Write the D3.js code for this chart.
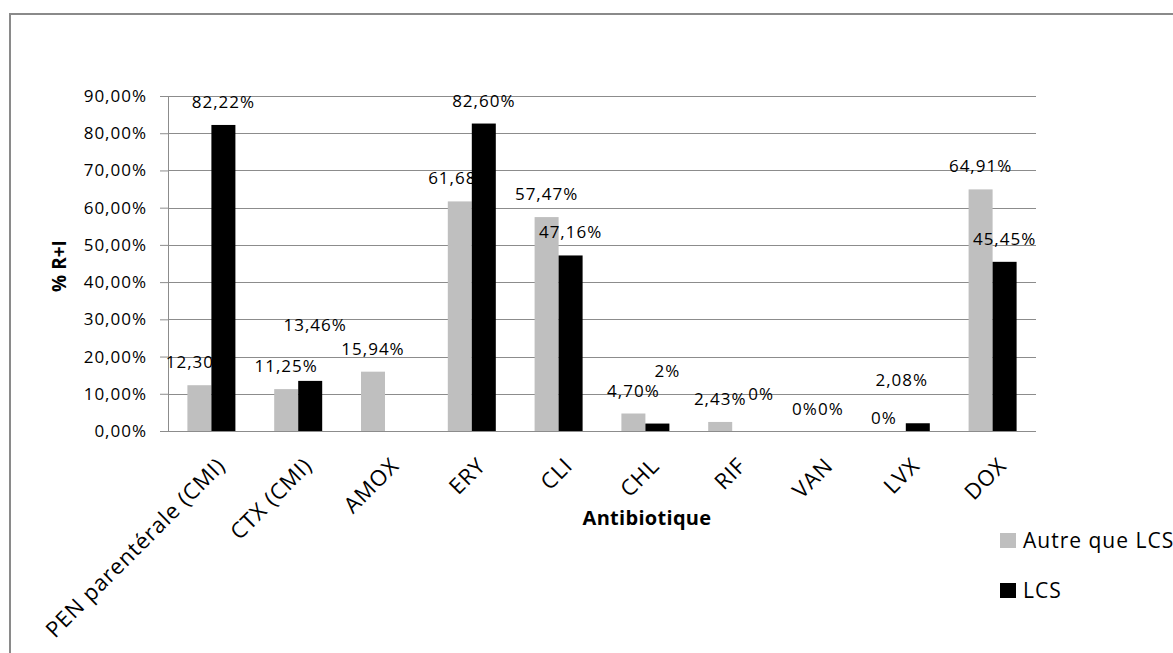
<!DOCTYPE html>
<html>
<head>
<meta charset="utf-8">
<script src="https://cdn.jsdelivr.net/npm/d3@7/dist/d3.min.js"></script>
<style>
  html, body { margin: 0; padding: 0; background: #fff; overflow: hidden; }
  text { font-family: "Open Sans", sans-serif; fill: #000; }
</style>
</head>
<body>
<svg id="chart" width="1173" height="653"></svg>
<script>
// data
const categories = ['PEN parentérale (CMI)', 'CTX (CMI)', 'AMOX', 'ERY', 'CLI', 'CHL', 'RIF', 'VAN', 'LVX', 'DOX'];
const autreValues = [12.30, 11.25, 15.94, 61.68, 57.47, 4.70, 2.43, 0, 0, 64.91];
const lcsValues = [82.22, 13.46, null, 82.60, 47.16, 2, 0, 0, 2.08, 45.45];
const seriesNames = ['Autre que LCS', 'LCS'];
const yTicks = [0, 10, 20, 30, 40, 50, 60, 70, 80, 90];

// manual label moves seen in the picture (dx, dy in px)
const autreNudge = [[-2, 0], [0, 0], [0, 0], [0, 0], [0, 0], [0, 0], [0, 0], [-2, 1], [-10, 10], [0, 0]];
const lcsNudge = [[0, 0], [5, -33], [0, 0], [0, 0], [0, 0], [10, -30], [17, -14], [0, 1], [-16, -20], [0, 0]];

const COLORS = { autre: '#bfbfbf', lcs: '#000000', grid: '#8c8c8c', frame: '#8a8a8a' };
const BAR_W = 24;
const plot = { left: 168, right: 1036, top: 96, bottom: 431 };

const svg = d3.select('#chart');

// outer frame (runs off the right and bottom edges)
svg.append('rect')
    .attr('x', 10).attr('y', 14)
    .attr('width', 1200).attr('height', 700)
    .attr('fill', '#fff')
    .attr('stroke', COLORS.frame)
    .attr('stroke-width', 2);

const x = d3.scaleBand()
    .domain(categories)
    .range([plot.left, plot.right])
    .padding(0);
const bw = x.bandwidth();
const x1 = d3.scaleBand()
    .domain(['autre', 'lcs'])
    .range([bw / 2 - BAR_W, bw / 2 + BAR_W]);
const y = d3.scaleLinear()
    .domain([0, 90])
    .range([plot.bottom, plot.top]);

const fmt = v => Number.isInteger(v) ? v + '%' : v.toFixed(2).replace('.', ',') + '%';

// y axis with gridlines
const yAxis = svg.append('g')
    .attr('transform', `translate(${plot.left},0)`)
    .call(d3.axisLeft(y)
        .tickValues(yTicks)
        .tickSize(8)
        .tickPadding(13)
        .tickFormat(d => d.toFixed(2).replace('.', ',') + '%'));
yAxis.select('.domain').attr('stroke', COLORS.grid);
yAxis.selectAll('.tick line').attr('stroke', COLORS.grid);
yAxis.selectAll('.tick text')
    .attr('font-size', 17)
    .attr('letter-spacing', 1)
    .attr('fill', '#000')
    .style('font-family', '"Open Sans", sans-serif');

svg.append('g')
    .selectAll('line')
    .data(yTicks)
    .join('line')
    .attr('x1', plot.left).attr('x2', plot.right)
    .attr('y1', d => Math.round(y(d)) + 0.5).attr('y2', d => Math.round(y(d)) + 0.5)
    .attr('stroke', COLORS.grid)
    .attr('stroke-width', 1);

// x axis labels
svg.append('g')
    .selectAll('text')
    .data(categories)
    .join('text')
    .attr('transform', d => `translate(${x(d) + bw / 2 + 4},456) rotate(-45)`)
    .attr('text-anchor', 'end')
    .attr('dy', '0.72em')
    .attr('font-size', 22)
    .attr('letter-spacing', 0.8)
    .text(d => d);

const autreData = categories.map((c, i) => ({ c, v: autreValues[i], n: autreNudge[i] }));
const lcsData = categories.map((c, i) => ({ c, v: lcsValues[i], n: lcsNudge[i] })).filter(d => d.v !== null);

function drawSeries(data, key) {
    svg.append('g')
        .selectAll('rect')
        .data(data)
        .join('rect')
        .attr('x', d => x(d.c) + x1(key))
        .attr('y', d => y(d.v))
        .attr('width', x1.bandwidth())
        .attr('height', d => y(0) - y(d.v))
        .attr('fill', COLORS[key]);
    svg.append('g')
        .selectAll('text')
        .data(data)
        .join('text')
        .attr('x', d => x(d.c) + x1(key) + x1.bandwidth() / 2 + d.n[0])
        .attr('y', d => y(d.v) - 17 + d.n[1])
        .attr('text-anchor', 'middle')
        .attr('font-size', 17)
        .attr('letter-spacing', 1)
        .text(d => fmt(d.v));
}
// gray first so the black bars cover its labels like in the original
drawSeries(autreData, 'autre');
drawSeries(lcsData, 'lcs');

// axis titles
svg.append('text')
    .attr('transform', 'translate(66,266) rotate(-90)')
    .attr('text-anchor', 'middle')
    .attr('font-size', 19)
    .attr('font-weight', 'bold')
    .text('% R+I');

svg.append('text')
    .attr('x', 647).attr('y', 525)
    .attr('text-anchor', 'middle')
    .attr('font-size', 20)
    .attr('font-weight', 'bold')
    .attr('letter-spacing', 0.3)
    .text('Antibiotique');

// legend
const legend = svg.append('g')
    .selectAll('g')
    .data(seriesNames)
    .join('g')
    .attr('transform', (d, i) => `translate(1000,${533 + i * 50})`);
legend.append('rect')
    .attr('width', 16).attr('height', 15)
    .attr('fill', (d, i) => i === 0 ? COLORS.autre : COLORS.lcs);
legend.append('text')
    .attr('x', 23).attr('y', 15)
    .attr('font-size', 21)
    .attr('letter-spacing', 1)
    .text(d => d);
</script>
</body>
</html>
